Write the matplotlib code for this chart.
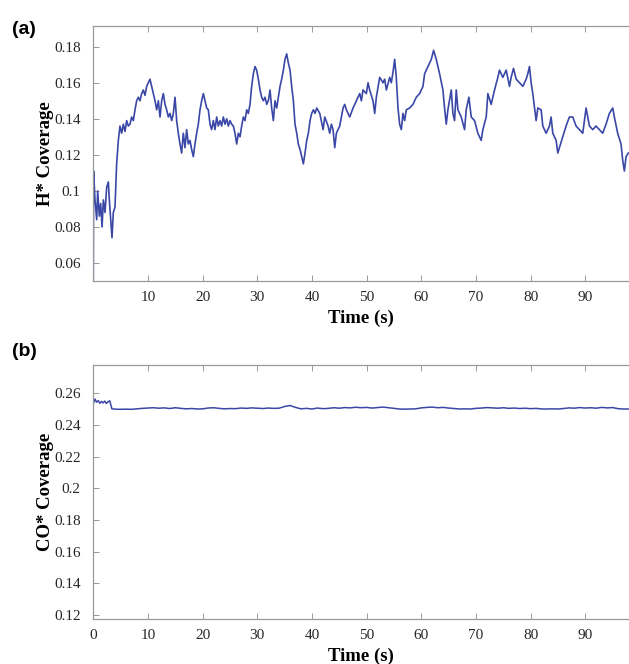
import matplotlib
matplotlib.use("Agg")
import matplotlib.pyplot as plt
from matplotlib.ticker import FixedLocator, FixedFormatter

# H* coverage trace (time in s, coverage)
h_time = [0.0, 0.05, 0.31, 0.62, 0.80, 1.10, 1.35, 1.60, 1.84, 2.14, 2.45, 2.75, 2.93,
          3.18, 3.42, 3.66, 3.97, 4.27, 4.58, 4.88, 5.19, 5.49, 5.80, 6.10, 6.41, 6.71,
          7.02, 7.32, 7.63, 7.93, 8.24, 8.54, 8.85, 9.15, 9.46, 9.76, 10.07, 10.37, 10.68,
          10.98, 11.29, 11.59, 11.90, 12.20, 12.51, 12.81, 13.12, 13.42, 13.73, 14.03,
          14.34, 14.64, 14.95, 15.25, 15.55, 15.86, 16.16, 16.47, 16.77, 17.08, 17.38,
          17.69, 17.99, 18.30, 18.60, 18.91, 19.21, 19.52, 19.82, 20.13, 20.43, 20.74,
          21.04, 21.35, 21.65, 21.96, 22.26, 22.57, 22.87, 23.18, 23.48, 23.79, 24.09,
          24.40, 24.70, 25.01, 25.31, 25.62, 25.92, 26.23, 26.53, 26.84, 27.14, 27.45,
          27.75, 28.06, 28.36, 28.67, 28.97, 29.28, 29.58, 29.89, 30.19, 30.50, 30.80,
          31.11, 31.41, 31.72, 32.02, 32.33, 32.63, 32.94, 33.24, 33.55, 33.85, 34.16,
          34.46, 34.77, 35.07, 35.38, 35.68, 35.99, 36.29, 36.60, 36.90, 37.21, 37.51,
          37.82, 38.12, 38.43, 38.73, 39.04, 39.34, 39.65, 39.95, 40.26, 40.56, 40.87,
          41.43, 42.04, 42.34, 42.95, 43.25, 43.56, 43.86, 44.17, 44.47, 45.08, 45.69,
          45.99, 46.30, 46.91, 47.52, 48.13, 48.74, 49.04, 49.34, 49.95, 50.26, 50.56,
          51.17, 51.48, 51.78, 52.39, 53.00, 53.30, 53.61, 54.22, 54.52, 54.83, 55.13,
          55.43, 55.74, 56.04, 56.35, 56.65, 56.96, 57.26, 57.87, 58.48, 59.09, 59.70,
          60.31, 60.61, 61.22, 61.83, 62.25, 62.74, 63.35, 63.96, 64.26, 64.57, 64.87,
          65.48, 65.79, 66.09, 66.40, 66.70, 67.31, 67.92, 68.22, 68.71, 69.14, 69.75,
          70.35, 70.96, 71.27, 71.88, 72.18, 72.79, 73.40, 74.01, 74.31, 74.92, 75.53,
          76.14, 76.44, 76.87, 77.36, 77.97, 78.58, 79.19, 79.49, 79.79, 80.10, 80.40,
          81.01, 81.32, 81.93, 82.23, 82.84, 83.45, 83.75, 84.06, 84.67, 84.97, 85.28,
          85.88, 86.49, 87.10, 87.71, 88.32, 88.93, 89.54, 90.15, 90.76, 91.37, 91.97,
          92.58, 93.19, 93.80, 94.41, 95.02, 95.32, 95.93, 96.54, 96.85, 97.15, 97.46,
          97.88]
h_cov = [0.050, 0.111, 0.095, 0.084, 0.100, 0.086, 0.093, 0.080, 0.095, 0.088, 0.102, 0.105, 0.095,
         0.084, 0.074, 0.088, 0.091, 0.115, 0.128, 0.136, 0.132, 0.137, 0.133, 0.139, 0.136, 0.137,
         0.141, 0.139, 0.145, 0.150, 0.152, 0.150, 0.154, 0.156, 0.153, 0.158, 0.160, 0.162, 0.158,
         0.154, 0.150, 0.145, 0.150, 0.141, 0.150, 0.154, 0.148, 0.145, 0.141, 0.143,
         0.139, 0.143, 0.152, 0.139, 0.132, 0.126, 0.121, 0.132, 0.124, 0.134, 0.126,
         0.128, 0.123, 0.119, 0.126, 0.132, 0.137, 0.145, 0.150, 0.154, 0.150, 0.146,
         0.145, 0.137, 0.134, 0.139, 0.134, 0.141, 0.136, 0.139, 0.136, 0.141, 0.137,
         0.140, 0.136, 0.139, 0.137, 0.136, 0.132, 0.126, 0.132, 0.130, 0.136, 0.141,
         0.139, 0.145, 0.143, 0.148, 0.158, 0.165, 0.169, 0.167, 0.162, 0.156, 0.152,
         0.150, 0.152, 0.148, 0.150, 0.156, 0.146, 0.139, 0.150, 0.146, 0.152, 0.158,
         0.162, 0.167, 0.173, 0.176, 0.171, 0.167, 0.158, 0.150, 0.137, 0.132, 0.126,
         0.123, 0.119, 0.115, 0.121, 0.128, 0.132, 0.139, 0.143, 0.145, 0.143, 0.146,
         0.143, 0.134, 0.141, 0.136, 0.132, 0.137, 0.134, 0.124, 0.132, 0.136, 0.146,
         0.148, 0.145, 0.141, 0.146, 0.150, 0.154, 0.150, 0.156, 0.154, 0.160, 0.156,
         0.150, 0.143, 0.152, 0.163, 0.160, 0.162, 0.156, 0.163, 0.160, 0.166, 0.173,
         0.163, 0.146, 0.137, 0.134, 0.143, 0.139, 0.145, 0.146, 0.148, 0.152, 0.154,
         0.158, 0.165, 0.169, 0.173, 0.178, 0.173, 0.165, 0.156, 0.146, 0.137, 0.145,
         0.156, 0.143, 0.139, 0.156, 0.145, 0.141, 0.134, 0.145, 0.152, 0.141, 0.139,
         0.132, 0.128, 0.134, 0.141, 0.154, 0.148, 0.156, 0.163, 0.167, 0.163, 0.167,
         0.158, 0.163, 0.168, 0.162, 0.160, 0.158, 0.162, 0.165, 0.169, 0.160, 0.154,
         0.139, 0.146, 0.145, 0.136, 0.132, 0.136, 0.141, 0.132, 0.128, 0.121, 0.124,
         0.130, 0.136, 0.141, 0.141, 0.136, 0.134, 0.132, 0.146, 0.136, 0.134, 0.136,
         0.134, 0.132, 0.137, 0.143, 0.146, 0.141, 0.132, 0.126, 0.117, 0.111, 0.119,
         0.121]

# CO* coverage trace (time in s, coverage)
co_time = [0.0, 0.3, 0.6, 0.9, 1.2, 1.5, 1.8, 2.1, 2.4, 2.7, 3.0, 3.2, 3.4,
           4, 5, 6, 7, 8, 9, 10, 11, 12, 13, 14, 15, 16, 17, 18, 19, 20, 21, 22, 23,
           24, 25, 26, 27, 28, 29, 30, 31, 32, 33, 34, 35, 36, 37, 38, 39, 40, 41, 42,
           43, 44, 45, 46, 47, 48, 49, 50, 51, 52, 53, 54, 55, 56, 57, 58, 59, 60, 61,
           62, 63, 64, 65, 66, 67, 68, 69, 70, 71, 72, 73, 74, 75, 76, 77, 78, 79, 80,
           81, 82, 83, 84, 85, 86, 87, 88, 89, 90, 91, 92, 93, 94, 95, 96, 97, 98]
co_cov = [0.2535, 0.2565, 0.2545, 0.2555, 0.2538, 0.2550, 0.2540, 0.2552, 0.2537, 0.2548, 0.2554, 0.2530, 0.2503,
          0.2501, 0.2500, 0.2501, 0.2500, 0.2503, 0.2506, 0.2508, 0.2510, 0.2507, 0.2509, 0.2505, 0.2510,
          0.2506, 0.2503, 0.2505, 0.2502, 0.2503, 0.2508, 0.2510, 0.2506, 0.2503, 0.2505, 0.2504, 0.2508,
          0.2506, 0.2509, 0.2507, 0.2505, 0.2508, 0.2506, 0.2507, 0.2518, 0.2524, 0.2512, 0.2503, 0.2506,
          0.2502, 0.2508, 0.2504, 0.2506, 0.2510, 0.2507, 0.2511, 0.2509, 0.2513, 0.2510, 0.2512, 0.2508,
          0.2511, 0.2514, 0.2510, 0.2506, 0.2502, 0.2501, 0.2502, 0.2503, 0.2509, 0.2512, 0.2514, 0.2510,
          0.2512, 0.2508, 0.2505, 0.2502, 0.2503, 0.2502, 0.2506, 0.2508, 0.2511, 0.2509, 0.2507, 0.2510,
          0.2506, 0.2508, 0.2505, 0.2507, 0.2504, 0.2506, 0.2502, 0.2502, 0.2503, 0.2502, 0.2505, 0.2509,
          0.2507, 0.2511, 0.2508, 0.2510, 0.2507, 0.2512, 0.2509, 0.2511, 0.2504, 0.2502, 0.2502]

h_yticks = [0.06, 0.08, 0.10, 0.12, 0.14, 0.16, 0.18]
h_yticklabels = ["0.06", "0.08", "0.1", "0.12", "0.14", "0.16", "0.18"]
h_xticks = [10, 20, 30, 40, 50, 60, 70, 80, 90]
co_yticks = [0.12, 0.14, 0.16, 0.18, 0.20, 0.22, 0.24, 0.26]
co_yticklabels = ["0.12", "0.14", "0.16", "0.18", "0.2", "0.22", "0.24", "0.26"]
co_xticks = [0, 10, 20, 30, 40, 50, 60, 70, 80, 90]

LINE = "#3a47a6"
SPINE = "#9a9a9a"
SERIF = "Liberation Serif"

W, H = 629, 664
fig = plt.figure(figsize=(W / 100, H / 100), dpi=100)

left = 93.3 / W
ax_a = fig.add_axes([left, 1 - 281 / H, 1 - left, 255 / H])
ax_b = fig.add_axes([left, 1 - 619 / H, 1 - left, 254 / H])


def style(ax, xticks, yticks, yticklabels, ylabel):
    ax.set_xlim(0, 98)
    ax.xaxis.set_major_locator(FixedLocator(xticks))
    ax.xaxis.set_major_formatter(FixedFormatter([str(v) for v in xticks]))
    ax.yaxis.set_major_locator(FixedLocator(yticks))
    ax.yaxis.set_major_formatter(FixedFormatter(yticklabels))
    for side in ("left", "top", "bottom"):
        ax.spines[side].set_color(SPINE)
        ax.spines[side].set_linewidth(0.9)
    ax.spines["right"].set_visible(False)
    ax.tick_params(axis="both", direction="in", length=4, width=0.7, color=SPINE,
                   labelsize=11, labelcolor="#262626")
    ax.tick_params(axis="x", top=True, pad=7)
    ax.tick_params(axis="y", pad=9)
    for lab in ax.get_xticklabels() + ax.get_yticklabels():
        lab.set_fontfamily(SERIF)
    ax.set_xlabel("Time (s)", fontfamily=SERIF, fontweight="bold", fontsize=13.5)
    ax.xaxis.set_label_coords(0.5, -0.113)
    ax.xaxis.label.set_va("top")
    ax.set_ylabel(ylabel, fontfamily=SERIF, fontweight="bold", fontsize=13.5)
    ax.yaxis.set_label_coords(-48 / 535.7, 0.5)
    ax.yaxis.label.set_va("center")


ax_a.plot(h_time, h_cov, color=LINE, lw=1.2)
ax_a.set_ylim(0.05, 0.1915)
style(ax_a, h_xticks, h_yticks, h_yticklabels, "H* Coverage")

ax_b.plot(co_time, co_cov, color=LINE, lw=1.1)
ax_b.set_ylim(0.1175, 0.278)
style(ax_b, co_xticks, co_yticks, co_yticklabels, "CO* Coverage")

fig.text(12 / W, 1 - 29 / H, "(a)", fontfamily="Liberation Sans", fontweight="bold",
         fontsize=14, va="center", ha="left")
fig.text(12 / W, 1 - 352 / H, "(b)", fontfamily="Liberation Sans", fontweight="bold",
         fontsize=14, va="center", ha="left")

fig.savefig("out.png", dpi=100)
